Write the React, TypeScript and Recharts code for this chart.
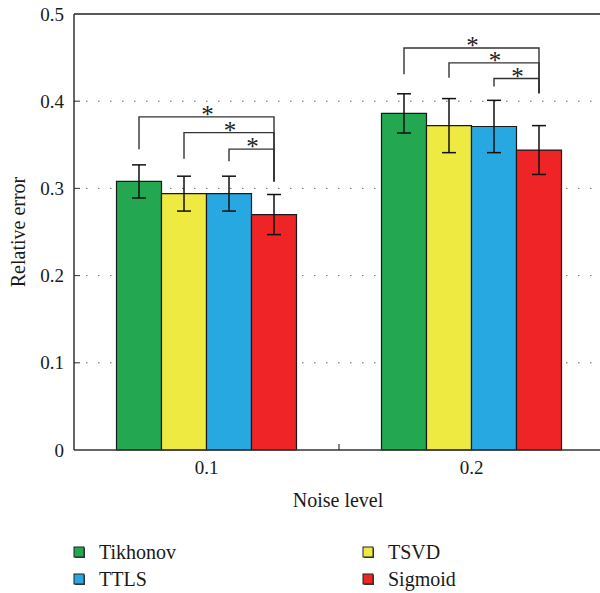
import React from 'react';
import { BarChart, Bar, XAxis, YAxis, CartesianGrid, ErrorBar, ReferenceLine, Legend, Label, Rectangle } from 'recharts';

// ---- data ----
const categories = ['0.1', '0.2'];
const seriesNames = ['Tikhonov', 'TSVD', 'TTLS', 'Sigmoid'];
const seriesColors = ['#23a851', '#eeea42', '#28a8e0', '#ee2426'];

const tikhonov = [0.308, 0.386];
const tikhonovErr = [0.019, 0.0225];
const tsvd = [0.294, 0.372];
const tsvdErr = [0.02, 0.031];
const ttls = [0.294, 0.371];
const ttlsErr = [0.02, 0.03];
const sigmoid = [0.27, 0.344];
const sigmoidErr = [0.023, 0.028];

const yTicks = [0, 0.1, 0.2, 0.3, 0.4, 0.5];

// significance brackets (compare Tikhonov / TSVD / TTLS against Sigmoid)
const bracketLevel = [
  [0.382, 0.364, 0.345],
  [0.461, 0.444, 0.426],
];
const bracketLeftEnd = [
  [0.345, 0.334, 0.331],
  [0.431, 0.427, 0.417],
];
const bracketRightEnd = [0.308, 0.409];
const bracketMark = '*';

const seriesValues = [tikhonov, tsvd, ttls, sigmoid];
const seriesErrs = [tikhonovErr, tsvdErr, ttlsErr, sigmoidErr];

const data = categories.map((c, i) => {
  const row: any = { noise: c, idx: i };
  seriesNames.forEach((n, s) => {
    row[n] = seriesValues[s][i];
    row[n + 'Err'] = seriesErrs[s][i];
  });
  return row;
});

const FONT = "'Liberation Serif', 'DejaVu Serif', serif";

const SigmoidShape = (props: any) => {
  const { x, y, width, height, payload, fill } = props;
  const i = payload.idx;
  const v = payload.Sigmoid;
  const base = y + height;
  const k = height / v;
  const py = (val: number) => base - val * k;
  const cx = x + width / 2;
  const rx = cx;
  return (
    <g>
      <Rectangle x={x} y={y} width={width} height={height} fill={fill} stroke="#1a1a1a" strokeWidth={1.2} />
      {bracketLevel[i].map((lvl, j) => {
        const lx = cx - (3 - j) * width;
        const ly = py(lvl);
        return (
          <g key={j}>
            <polyline
              points={`${lx},${py(bracketLeftEnd[i][j])} ${lx},${ly} ${rx},${ly} ${rx},${py(bracketRightEnd[i])}`}
              fill="none"
              stroke="#333"
              strokeWidth={1.4}
            />
            <text x={(lx + rx) / 2 + 1} y={ly + 6} textAnchor="middle" fontSize={25} fontFamily={FONT} fill="#222">
              {bracketMark}
            </text>
          </g>
        );
      })}
    </g>
  );
};

const YTick = (props: any) => {
  const { x, y, payload } = props;
  const v = payload.value;
  return (
    <g>
      <text x={x} y={y} dy="0.35em" textAnchor="end" fontSize={19} fontFamily={FONT} fill="#1a1a1a">
        {v === 0 ? '0' : v.toFixed(1)}
      </text>
      {v > 0 && v < 0.5 && <line x1={x + 10} x2={x + 16} y1={y} y2={y} stroke="#333" strokeWidth={1} />}
    </g>
  );
};

const XTick = (props: any) => {
  const { x, y, payload, index } = props;
  const axisY = y - 11;
  const off = payload.offset || 0;
  return (
    <g>
      <text x={x} y={y} dy="0.71em" textAnchor="middle" fontSize={19} fontFamily={FONT} fill="#1a1a1a">
        {payload.value}
      </text>
      {index === 0 && off > 0 && (
        <line x1={x + off} x2={x + off} y1={axisY} y2={axisY - 6} stroke="#333" strokeWidth={1.2} />
      )}
    </g>
  );
};

const LegendContent = () => {
  const colX = [74, 363];
  const rowY = [552, 579];
  return (
    <svg width={600} height={55} style={{ display: 'block' }}>
      {seriesNames.map((n, s) => {
        const cx = colX[s % 2];
        const cy = rowY[Math.floor(s / 2)] - 538;
        return (
          <g key={n}>
            <rect x={cx + 1} y={cy - 4} width={10} height={10} fill="#444" />
            <rect x={cx} y={cy - 5} width={10} height={10} fill={seriesColors[s]} stroke="#222" strokeWidth={1} />
            <text x={cx + 25} y={cy} dy="0.35em" fontSize={20} fontFamily={FONT} fill="#1a1a1a">
              {n}
            </text>
          </g>
        );
      })}
    </svg>
  );
};

export default function App() {
  return (
    <div style={{ position: 'absolute', left: 0, top: 0, width: 600, height: 593, fontFamily: FONT, background: '#fff', overflow: 'hidden' }}>
      <BarChart
        width={600}
        height={593}
        data={data}
        margin={{ top: 14, right: -4, bottom: 0, left: 0 }}
        barCategoryGap={42.5}
        barGap={0}
        style={{ fontFamily: FONT }}
      >
        <CartesianGrid vertical={false} stroke="#666" strokeDasharray="1.5 10.5" horizontalValues={[0.1, 0.2, 0.3, 0.4]} />
        <XAxis
          dataKey="noise"
          type="category"
          height={88}
          tickLine={false}
          tickSize={0}
          tickMargin={11}
          axisLine={{ stroke: '#333', strokeWidth: 1.5 }}
          tick={<XTick />}
        >
          <Label
            content={(p: any) => {
              const vb = p.viewBox || {};
              return (
                <text x={338} y={vb.y + 57} textAnchor="middle" fontSize={20} fontFamily={FONT} fill="#1a1a1a">
                  Noise level
                </text>
              );
            }}
          />
        </XAxis>
        <YAxis
          type="number"
          domain={[0, 0.5]}
          ticks={yTicks}
          width={74}
          tickLine={false}
          tickSize={0}
          tickMargin={10}
          interval={0}
          axisLine={{ stroke: '#333', strokeWidth: 1.5 }}
          tick={<YTick />}
        >
          <Label
            content={(p: any) => {
              const vb = p.viewBox || {};
              const cy = vb.y + vb.height / 2;
              return (
                <text
                  x={25}
                  y={cy}
                  transform={`rotate(-90, 25, ${cy})`}
                  textAnchor="middle"
                  fontSize={20}
                  fontFamily={FONT}
                  fill="#1a1a1a"
                >
                  Relative error
                </text>
              );
            }}
          />
        </YAxis>
        <ReferenceLine y={0.5} stroke="#222" strokeWidth={1.5} />
        {seriesNames.map((n, s) =>
          n === 'Sigmoid' ? (
            <Bar key={n} dataKey={n} fill={seriesColors[s]} isAnimationActive={false} shape={<SigmoidShape />}>
              <ErrorBar dataKey={n + 'Err'} width={7} stroke="#111" strokeWidth={1.5} />
            </Bar>
          ) : (
            <Bar key={n} dataKey={n} fill={seriesColors[s]} stroke="#1a1a1a" strokeWidth={1.2} isAnimationActive={false}>
              <ErrorBar dataKey={n + 'Err'} width={7} stroke="#111" strokeWidth={1.5} />
            </Bar>
          )
        )}
        <Legend verticalAlign="bottom" content={<LegendContent />} wrapperStyle={{ left: 0, width: 600, bottom: 0 }} />
      </BarChart>
    </div>
  );
}
